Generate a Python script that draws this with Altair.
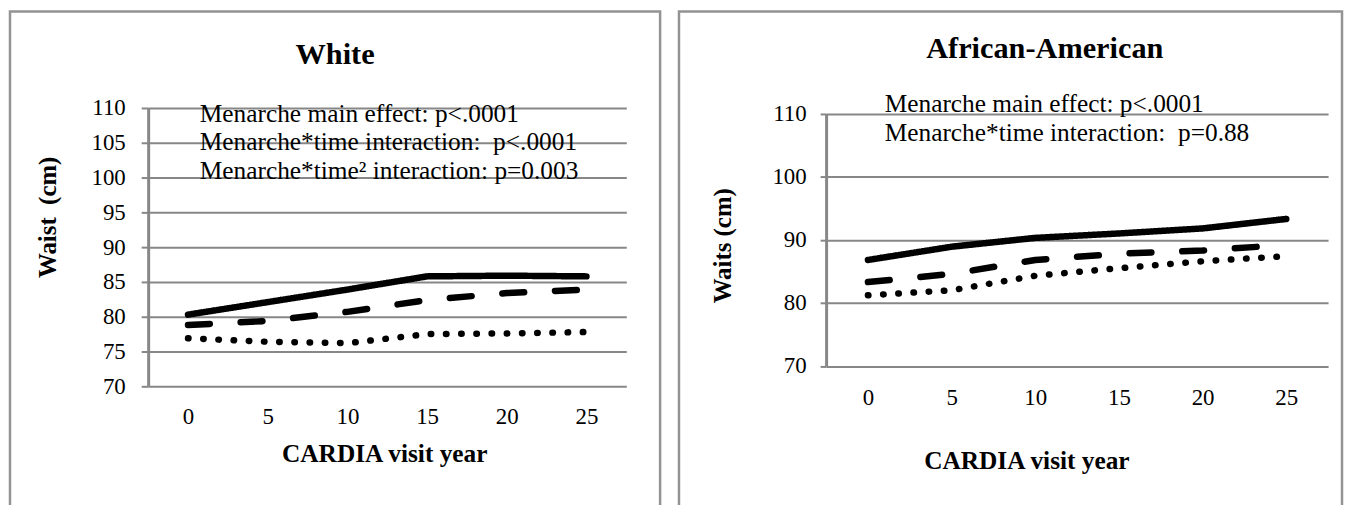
import altair as alt
import pandas as pd

years = [0, 5, 10, 15, 20, 25]
series_names = ["early", "middle", "late"]

white_early = [80.3, 82.1, 83.9, 85.8, 85.9, 85.8]
white_middle = [78.8, 79.4, 80.7, 82.4, 83.4, 83.9]
white_late = [76.9, 76.4, 76.2, 77.5, 77.6, 77.8]

aa_early = [86.8, 88.9, 90.3, 91.0, 91.8, 93.3]
aa_middle = [83.3, 84.6, 86.8, 87.8, 88.3, 89.2]
aa_late = [81.2, 82.0, 84.3, 85.5, 86.6, 87.4]

white_ticks = [70, 75, 80, 85, 90, 95, 100, 105, 110]
aa_ticks = [70, 80, 90, 100, 110]

white_notes = ["Menarche main effect: p<.0001",
               "Menarche*time interaction:\u00a0 p<.0001",
               "Menarche*time\u00b2 interaction: p=0.003"]
aa_notes = ["Menarche main effect: p<.0001",
            "Menarche*time interaction:\u00a0 p=0.88"]

FONT = "Liberation Serif, Times New Roman, serif"
GRID = "#878787"
BORDER = "#939393"


def long_df(e, m, l):
    rows = []
    for name, vals in zip(series_names, [e, m, l]):
        for yr, v in zip(years, vals):
            rows.append({"year": str(yr), "series": name, "value": v})
    return pd.DataFrame(rows)


one = pd.DataFrame({"k": [0]})


def panel(df, ticks, w, h, top, label_pad, tick_size, x_label_pad, title, t_xy,
          ytitle, yt_xy, xt_xy, notes, note_x, note_y0, note_dy, rect):
    x = alt.X("year:O", sort=[str(y) for y in years],
              scale=alt.Scale(type="point", padding=0.5),
              axis=alt.Axis(title=None, domain=False, ticks=False, grid=False,
                            labelAngle=0, labelPadding=x_label_pad,
                            labelFont=FONT, labelFontSize=23, labelColor="black"))
    y = alt.Y("value:Q", scale=alt.Scale(domain=[70, 110], nice=False, zero=False,
                                         range=[h, top]),
              axis=alt.Axis(title=None, values=ticks, grid=True, gridColor=GRID,
                            gridWidth=2, domainColor=GRID, domainWidth=3,
                            tickColor=GRID, tickWidth=2, tickSize=tick_size,
                            labelPadding=label_pad, labelFont=FONT,
                            labelFontSize=23, labelColor="black"))
    lines = alt.Chart(df).mark_line(strokeWidth=6.5, strokeCap="round",
                                    strokeJoin="round", color="black").encode(
        x=x, y=y,
        strokeDash=alt.StrokeDash("series:N",
                                  scale=alt.Scale(domain=series_names,
                                                  range=[[1, 0], [22, 31], [0.5, 14.8]]),
                                  legend=None),
        detail="series:N")
    border = alt.Chart(one).mark_rect(fillOpacity=0, stroke=BORDER,
                                      strokeWidth=2.5).encode(
        x=alt.value(rect[0]), x2=alt.value(rect[1]),
        y=alt.value(rect[2]), y2=alt.value(rect[3]))
    layers = [border, lines]
    layers.append(alt.Chart(one).mark_text(text=title, font=FONT, fontSize=30.5,
                                           fontWeight="bold", align="center",
                                           baseline="alphabetic", color="black").encode(
        x=alt.value(t_xy[0]), y=alt.value(t_xy[1])))
    layers.append(alt.Chart(one).mark_text(text=ytitle, font=FONT, fontSize=25,
                                           fontWeight="bold", align="center",
                                           baseline="middle", angle=270,
                                           color="black").encode(
        x=alt.value(yt_xy[0]), y=alt.value(yt_xy[1])))
    layers.append(alt.Chart(one).mark_text(text="CARDIA visit year", font=FONT,
                                           fontSize=25.5, fontWeight="bold",
                                           align="center", baseline="alphabetic",
                                           color="black").encode(
        x=alt.value(xt_xy[0]), y=alt.value(xt_xy[1])))
    for i, n in enumerate(notes):
        layers.append(alt.Chart(one).mark_text(text=n, font=FONT, fontSize=25.5,
                                               align="left", baseline="alphabetic",
                                               color="black").encode(
            x=alt.value(note_x), y=alt.value(note_y0 + i * note_dy)))
    return alt.layer(*layers).properties(width=w, height=h)


left = panel(long_df(white_early, white_middle, white_late), white_ticks,
             481, 280, 0, 16, 7, 19, "White", (188, -44.7),
             "Waist\u00a0 (cm)", (-101, 110), (238, 356),
             white_notes, 52, 14, 28.6, (-139, 515, -97, 425))
right = panel(long_df(aa_early, aa_middle, aa_late), aa_ticks,
              505, 259.6, 5.6, 14, 6, 21, "African-American", (220, -50.1),
              "Waits (cm)", (-104, 138.6), (202, 363.6),
              aa_notes, 59, 3.6, 29.5, (-148, 519, -97, 425))

chart = alt.hconcat(left, right, spacing=15).properties(
    padding={"left": 0, "top": 0, "right": 0, "bottom": 0},
    background="white"
).configure_view(stroke=None)

chart.save("out.html", embed_options={"renderer": "svg", "actions": False})
